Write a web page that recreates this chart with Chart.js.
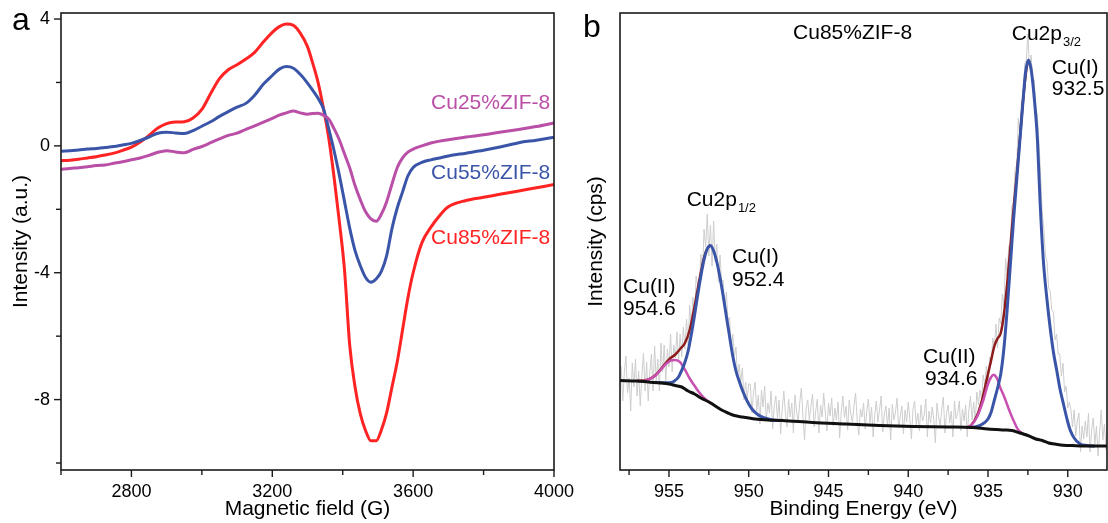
<!DOCTYPE html>
<html><head><meta charset="utf-8">
<script src="https://cdn.jsdelivr.net/npm/chart.js@4.4.1/dist/chart.umd.min.js"></script>
<style>
html,body{margin:0;padding:0;background:#fff;width:1108px;height:523px;overflow:hidden;position:relative}
canvas{position:absolute;top:0}
#ca{left:0}
#cb{left:566px}
</style></head><body>
<canvas id="ca" width="590" height="523"></canvas>
<canvas id="cb" width="542" height="523"></canvas>
<script>
const FONT = '"Liberation Sans", Arial, Helvetica, sans-serif';
Chart.defaults.font.family = FONT;
Chart.defaults.color = '#000';

// ---------- Panel a : EPR ----------
const fieldG = [2600,2625,2650,2675,2700,2725,2750,2775,2800,2825,2850,2875,2900,2925,2950,2975,3000,3025,3050,3075,3100,3125,3150,3175,3200,
  3220,3240,3260,3280,3300,
  3315,3330,3345,3360,3375,3390,3405,3420,3435,3450,3465,3480,3495,3510,3525,3540,3555,3570,3585,3600,
  3625,3650,3675,3700,
  3750,3800,3850,3900,3950,4000];
const cu25 = [-0.74,-0.71,-0.69,-0.66,-0.62,-0.60,-0.55,-0.50,-0.44,-0.38,-0.30,-0.20,-0.15,-0.19,-0.22,-0.11,-0.02,0.10,0.22,0.33,0.40,0.52,0.63,0.75,0.87,
  0.97,1.04,1.10,1.04,1.00,
  1.02,1.03,0.97,0.85,0.55,0.20,-0.25,-0.70,-1.25,-1.70,-2.08,-2.30,-2.38,-2.15,-1.75,-1.20,-0.68,-0.38,-0.20,-0.10,
  0.00,0.09,0.15,0.19,
  0.28,0.35,0.44,0.52,0.61,0.72];
const cu55 = [-0.17,-0.15,-0.13,-0.10,-0.08,-0.05,-0.02,0.03,0.08,0.17,0.28,0.40,0.43,0.41,0.39,0.48,0.62,0.76,0.93,1.08,1.22,1.34,1.60,1.95,2.22,
  2.42,2.50,2.45,2.25,1.98,
  1.75,1.50,1.18,0.55,-0.13,-0.90,-1.75,-2.60,-3.30,-3.78,-4.15,-4.30,-4.20,-3.95,-3.45,-2.60,-1.95,-1.45,-0.95,-0.68,
  -0.52,-0.44,-0.38,-0.32,
  -0.23,-0.14,-0.03,0.10,0.18,0.27];
const cu85 = [-0.47,-0.45,-0.42,-0.38,-0.34,-0.29,-0.23,-0.14,-0.04,0.12,0.33,0.56,0.70,0.75,0.76,0.88,1.15,1.65,2.12,2.40,2.56,2.74,2.95,3.28,3.58,
  3.76,3.84,3.80,3.55,3.13,
  2.60,2.00,1.20,0.27,-0.95,-2.35,-3.90,-6.30,-7.60,-8.45,-8.98,-9.30,-9.30,-8.95,-8.40,-7.60,-6.80,-5.80,-4.80,-4.00,
  -3.05,-2.57,-2.20,-1.92,
  -1.72,-1.62,-1.52,-1.42,-1.32,-1.22];
const eprXLabels = [2800, 3200, 3600, 4000];
const eprYLabels = [-8, -4, 0, 4];

// ---------- Panel b : XPS Cu2p ----------
const rawStartEV = 958.0, rawStepEV = 0.1;
const rawCounts = [
  104,69,97,114,77,92,59,107,83,111,74,99,64,94,117,79,
  108,69,98,116,79,124,88,111,79,127,98,125,89,121,103,136,98,125,112,138,108,136,113,143,121,
  151,125,165,142,173,149,194,185,178,216,198,241,223,256,214,245,204,249,208,226,188,215,188,190,160,178,149,153,119,136,114,123,91,106,88,102,70,88,71,86,
  86,57,78,88,59,75,46,80,63,84,
  50,67,57,79,41,64,74,52,70,36,
  61,79,57,43,71,53,67,37,75,58,
  48,68,82,54,30,62,70,50,64,76,
  43,59,71,37,65,53,77,57,39,67,
  54,72,44,62,50,68,32,58,74,52,
  64,40,70,56,48,65,77,49,35,61,
  53,67,41,59,71,47,63,33,55,69,
  48,60,74,38,56,64,44,62,30,66,
  50,58,72,42,54,64,36,60,48,68,
  51,31,61,69,45,57,39,65,49,55,
  71,33,59,47,63,51,27,67,53,45,
  61,73,37,57,65,47,59,33,69,51,
  57,69,39,61,49,65,33,60,74,50,
  68,48,78,65,80,70,95,85,104,84,
  113,106,132,123,146,122,152,146,176,164,
  212,193,224,226,264,268,301,305,352,337,
  370,364,406,410,436,401,415,392,390,362,
  354,326,294,258,241,215,208,182,179,160,
  158,130,136,116,116,94,107,78,84,62,
  68,60,43,60,34,49,57,18,44,31,
  49,33,57,18,40,52,26,44,14,38,60,30,46,20,42];
const bgEV = [958.07,957.0,956.3,955.5,955.0,954.6,954.2,953.8,953.4,953.0,952.5,952.0,951.7,951.3,950.9,950.4,949.6,948.8,947.9,946.0,943.9,941.8,939.7,937.5,936.0,935.0,934.0,933.5,933.0,932.5,932.0,931.6,931.2,930.8,930.3,929.5,928.5,927.54];
const bgI  = [89.5,89,88,87,86,84.5,83,79,76,72,68,63,60,57,54.5,53,51,50,49.5,47.5,46,44.5,43.5,43,42.5,41,40,39.5,37,34.5,31,29.5,27,26,24.8,24.3,24,24];
const cuI12EV = [956.0,955.4,955.0,954.7,954.4,954.2,954.0,953.8,953.6,953.4,953.2,953.0,952.8,952.6,952.4,952.2,952.0,951.8,951.6,951.4,951.2,951.0,950.8,950.6,950.4,950.1,949.8,949.4,949.0,948.5,948.0];
const cuI12I  = [87.6,87.3,87.2,88.5,93,99.7,107.7,119,135.5,154.6,175,194,210.5,221,224.5,219,208,192.5,174,153.5,133.4,114,99,89,80,69,61,55,52,50,49.5];
const cuII12EV = [957.0,956.7,956.4,956.1,955.8,955.5,955.2,954.9,954.6,954.3,954.0,953.7,953.4,953.1,952.8,952.5,952.2];
const cuII12I  = [89,88.8,90,91.9,95.3,100.5,105.8,109.3,110,107.8,100.3,91.5,84.3,77.4,72,68.3,65.5];
const env12EV = [957.0,956.4,956.1,955.8,955.5,955.2,954.9,954.6,954.3,954.0,953.7,953.4,953.1,952.8,952.6,952.4];
const env12I  = [89,90,92,95.5,101,107,112,115.5,121,127,140,163,189.5,212.5,221.5,224.5];
const cuI32EV = [936.2,935.7,935.4,935.0,934.8,934.6,934.4,934.2,934.0,933.8,933.6,933.4,933.2,933.0,932.8,932.65,932.47,932.3,932.1,931.9,931.74,931.53,931.3,931.11,930.9,930.69,930.5,930.27,930.0,929.85,929.6,929.23,928.8,928.3];
const cuI32I  = [42.5,43.5,45.5,51,58,70,82,96,122,160,205,250,290,330,370,397,410,401,372,330,270,209.5,170,143,118,99.5,82,66,48,40,32,26,24.5,24];
const cuII32EV = [936.4,936.1,935.7,935.3,935.0,934.8,934.65,934.45,934.24,934.0,933.82,933.6,933.4,933.1,932.8,932.5];
const cuII32I  = [42.5,44,52.8,69.5,86,93,95.2,92,82.8,74,66.2,57,49.5,40,36.2,34.5];
const env32EV = [936.4,936.1,935.7,935.4,935.1,934.8,934.6,934.4,934.2,934.0,933.8,933.6,933.4,933.2,933.0,932.8,932.6,932.47];
const env32I  = [42.5,44.2,54,68.5,89,110,124,131.5,137,156,186,222.5,260.5,295,331.5,370,400,410];
const xpsXLabels = [955, 950, 945, 940, 935, 930];

// ---------- helpers ----------
const pts = (xs, ys) => xs.map((x, i) => ({x: x, y: ys[i]}));
const near = (v, list) => list.some(m => Math.abs(v - m) < 1e-6);
const noPad = s => { s.paddingTop = 0; s.paddingBottom = 0; s.paddingLeft = 0; s.paddingRight = 0; };

function framePlugin(key, xMajors, yMajors) {
  return {
    id: 'frame' + key,
    afterDraw(chart) {
      const ctx = chart.ctx, a = chart.chartArea;
      ctx.save();
      ctx.strokeStyle = '#1a1a1a';
      ctx.lineWidth = 1.6;
      ctx.strokeRect(a.left, a.top, a.right - a.left, a.bottom - a.top);
      ctx.lineWidth = 1.4;
      const xs = chart.scales.x;
      xs.ticks.forEach(t => {
        const px = xs.getPixelForValue(t.value);
        const len = near(t.value, xMajors) ? 7 : 5;
        ctx.beginPath(); ctx.moveTo(px, a.bottom); ctx.lineTo(px, a.bottom + len); ctx.stroke();
      });
      if (yMajors) {
        const ys = chart.scales.y;
        ys.ticks.forEach(t => {
          const py = ys.getPixelForValue(t.value);
          const len = near(t.value, yMajors) ? 7 : 5;
          ctx.beginPath(); ctx.moveTo(a.left, py); ctx.lineTo(a.left - len, py); ctx.stroke();
        });
      }
      ctx.restore();
    }
  };
}

function textPlugin(key, items, letter) {
  return {
    id: 'texts' + key,
    afterDraw(chart) {
      const ctx = chart.ctx, xs = chart.scales.x, ys = chart.scales.y;
      ctx.save();
      items.forEach(it => {
        const px = xs.getPixelForValue(it.x), py = ys.getPixelForValue(it.y);
        ctx.textBaseline = 'middle';
        ctx.font = it.size + 'px ' + FONT;
        ctx.fillStyle = it.color || '#000';
        ctx.textAlign = it.align || 'left';
        ctx.fillText(it.text, px, py);
        if (it.sub) {
          const w = ctx.measureText(it.text).width;
          ctx.font = it.subSize + 'px ' + FONT;
          ctx.textAlign = 'left';
          ctx.fillText(it.sub, px + w + 1, py + it.subDy);
        }
      });
      ctx.font = letter.size + 'px ' + FONT;
      ctx.fillStyle = '#000';
      ctx.textAlign = 'left';
      ctx.textBaseline = 'alphabetic';
      ctx.fillText(letter.text, letter.x, letter.y);
      ctx.restore();
    }
  };
}

const C25 = '#b94fa6', C55 = '#3a55a8', C85 = '#ff2323';

new Chart(document.getElementById('ca'), {
  type: 'line',
  data: { datasets: [
    { label: 'Cu25%ZIF-8', data: pts(fieldG, cu25), borderColor: C25, borderWidth: 3, pointRadius: 0, cubicInterpolationMode: 'monotone' },
    { label: 'Cu55%ZIF-8', data: pts(fieldG, cu55), borderColor: C55, borderWidth: 3, pointRadius: 0, cubicInterpolationMode: 'monotone' },
    { label: 'Cu85%ZIF-8', data: pts(fieldG, cu85), borderColor: C85, borderWidth: 3, pointRadius: 0, cubicInterpolationMode: 'monotone' }
  ]},
  options: {
    responsive: false, animation: false, devicePixelRatio: 1,
    layout: { padding: { left: 0, top: 13, right: 36, bottom: 0 } },
    plugins: { legend: { display: false }, tooltip: { enabled: false } },
    scales: {
      x: { type: 'linear', min: 2600, max: 4000,
        grid: { display: false, drawTicks: false }, border: { display: false },
        ticks: { stepSize: 200, autoSkip: false, includeBounds: false, maxRotation: 0, padding: 11,
          font: { size: 18 }, color: '#000', callback: v => near(v, eprXLabels) ? String(Math.round(v)) : '' },
        title: { display: true, text: 'Magnetic field (G)', font: { size: 21 }, color: '#000', padding: { top: 0, bottom: 1 } },
        afterFit: s => { s.height = 53; noPad(s); } },
      y: { type: 'linear', min: -10.22, max: 4.19,
        grid: { display: false, drawTicks: false }, border: { display: false },
        ticks: { stepSize: 2, autoSkip: false, includeBounds: false, padding: 11,
          font: { size: 18 }, color: '#000', callback: v => near(v, eprYLabels) ? String(Math.round(v)) : '' },
        title: { display: true, text: 'Intensity (a.u.)', font: { size: 21 }, color: '#000', padding: { top: 9, bottom: 0 } },
        afterFit: s => { s.width = 61; noPad(s); } }
    }
  },
  plugins: [
    framePlugin('A', eprXLabels, eprYLabels),
    textPlugin('A', [
      { text: 'Cu25%ZIF-8', x: 3989, y: 1.36, align: 'right', color: C25, size: 21 },
      { text: 'Cu55%ZIF-8', x: 3989, y: -0.85, align: 'right', color: C55, size: 21 },
      { text: 'Cu85%ZIF-8', x: 3989, y: -2.90, align: 'right', color: C85, size: 21 }
    ], { text: 'a', x: 12, y: 30, size: 32 })
  ]
});

const rawPts = rawCounts.map((c, i) => ({ x: +(rawStartEV - i * rawStepEV).toFixed(2), y: c }));
const BLUE = '#3a55a8', PINK = '#c94fb0', DRED = '#8e1b1b';

new Chart(document.getElementById('cb'), {
  type: 'line',
  data: { datasets: [
    { label: 'Background', data: pts(bgEV, bgI), borderColor: '#111', borderWidth: 3, pointRadius: 0, cubicInterpolationMode: 'monotone', order: 1 },
    { label: 'Cu(I) 2p1/2', data: pts(cuI12EV, cuI12I), borderColor: BLUE, borderWidth: 3, pointRadius: 0, cubicInterpolationMode: 'monotone', order: 2 },
    { label: 'Cu(I) 2p3/2', data: pts(cuI32EV, cuI32I), borderColor: BLUE, borderWidth: 3, pointRadius: 0, cubicInterpolationMode: 'monotone', order: 2 },
    { label: 'Cu(II) 2p1/2', data: pts(cuII12EV, cuII12I), borderColor: PINK, borderWidth: 2.5, pointRadius: 0, cubicInterpolationMode: 'monotone', order: 3 },
    { label: 'Cu(II) 2p3/2', data: pts(cuII32EV, cuII32I), borderColor: PINK, borderWidth: 2.5, pointRadius: 0, cubicInterpolationMode: 'monotone', order: 3 },
    { label: 'Envelope 2p1/2', data: pts(env12EV, env12I), borderColor: DRED, borderWidth: 2.5, pointRadius: 0, cubicInterpolationMode: 'monotone', order: 4 },
    { label: 'Envelope 2p3/2', data: pts(env32EV, env32I), borderColor: DRED, borderWidth: 2.5, pointRadius: 0, cubicInterpolationMode: 'monotone', order: 4 },
    { label: 'Raw', data: rawPts, borderColor: '#cdcdcd', borderWidth: 1, pointRadius: 0, tension: 0, order: 5 }
  ]},
  options: {
    responsive: false, animation: false, devicePixelRatio: 1,
    layout: { padding: { left: 0, top: 13, right: 1, bottom: 0 } },
    plugins: { legend: { display: false }, tooltip: { enabled: false } },
    scales: {
      x: { type: 'linear', min: 927.54, max: 958.07, reverse: true,
        grid: { display: false, drawTicks: false }, border: { display: false },
        ticks: { stepSize: 2.5, autoSkip: false, includeBounds: false, maxRotation: 0, padding: 11,
          font: { size: 18 }, color: '#000', callback: v => near(v, xpsXLabels) ? String(Math.round(v)) : '' },
        title: { display: true, text: 'Binding Energy (eV)', font: { size: 21 }, color: '#000', padding: { top: 0, bottom: 1 } },
        afterFit: s => { s.height = 53; noPad(s); } },
      y: { type: 'linear', min: 0, max: 457,
        grid: { display: false, drawTicks: false }, border: { display: false },
        ticks: { display: false },
        title: { display: true, text: 'Intensity (cps)', font: { size: 21 }, color: '#000', padding: { top: 18, bottom: 0 } },
        afterFit: s => { s.width = 54; noPad(s); } }
    }
  },
  plugins: [
    framePlugin('B', xpsXLabels, null),
    textPlugin('B', [
      { text: 'Cu85%ZIF-8', x: 947.22, y: 436.5, size: 21 },
      { text: 'Cu2p', sub: '1/2', subSize: 13, subDy: 8, x: 953.89, y: 269.5, size: 21 },
      { text: 'Cu(I)', x: 951.05, y: 213, size: 21 },
      { text: '952.4', x: 951.05, y: 190, size: 21 },
      { text: 'Cu(II)', x: 957.88, y: 183, size: 21 },
      { text: '954.6', x: 957.88, y: 161, size: 21 },
      { text: 'Cu2p', sub: '3/2', subSize: 13, subDy: 8, x: 933.51, y: 436, size: 21 },
      { text: 'Cu(I)', x: 931.0, y: 401.5, size: 21 },
      { text: '932.5', x: 931.0, y: 381, size: 21 },
      { text: 'Cu(II)', x: 939.07, y: 113, size: 21 },
      { text: '934.6', x: 938.95, y: 91, size: 21 }
    ], { text: 'b', x: 17, y: 37, size: 32 })
  ]
});
</script>
</body></html>
